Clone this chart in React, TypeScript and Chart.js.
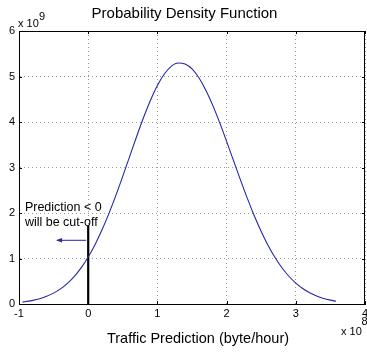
import React, { useEffect, useRef } from "react";
import { Chart, registerables } from "chart.js";

Chart.register(...registerables);

// Traffic prediction (x 10^8 byte/hour)
const xValues = [
  -0.95, -0.9, -0.8, -0.7, -0.6, -0.5, -0.4, -0.3, -0.2, -0.1,
  0, 0.1, 0.2, 0.3, 0.4, 0.5, 0.6, 0.7, 0.8, 0.9,
  1.0, 1.1, 1.2, 1.3, 1.4, 1.5, 1.6, 1.7, 1.8, 1.9,
  2.0, 2.1, 2.2, 2.3, 2.4, 2.5, 2.6, 2.7, 2.8, 2.9,
  3.0, 3.1, 3.2, 3.3, 3.4, 3.5, 3.58,
];
// Probability density (x 10^9)
const densityValues = [
  0.043, 0.054, 0.08, 0.117, 0.169, 0.239, 0.332, 0.454, 0.608, 0.799,
  1.033, 1.31, 1.63, 1.991, 2.387, 2.81, 3.246, 3.682, 4.098, 4.478,
  4.803, 5.056, 5.223, 5.297, 5.275, 5.167, 4.972, 4.7, 4.366, 3.986,
  3.575, 3.151, 2.729, 2.322, 1.941, 1.595, 1.288, 1.022, 0.796, 0.61,
  0.459, 0.339, 0.246, 0.176, 0.123, 0.085, 0.062,
];
// Cut-off marker at zero
const cutX = [0, 0];
const cutY = [0, 1.72];
// Arrow (from, to)
const arrowX = [-0.03, -0.45];
const arrowY = [1.4, 1.4];

const xTicks = [-1, 0, 1, 2, 3, 4];
const yTicks = [0, 1, 2, 3, 4, 5, 6];

const titleText = "Probability Density Function";
const xTitleText = "Traffic Prediction (byte/hour)";
const noteLines = ["Prediction < 0", "will be cut-off"];

const FONT = "'Liberation Sans', Arial, Helvetica, sans-serif";
const CURVE = "rgb(38,38,168)";

const decorPlugin = {
  id: "decor",
  afterDraw(chart: any) {
    const { ctx, chartArea, scales } = chart;
    const xs = scales.x;
    const ys = scales.y;
    const { left, right, top, bottom } = chartArea;
    ctx.save();
    // box top & right
    ctx.strokeStyle = "#000";
    ctx.lineWidth = 1;
    ctx.beginPath();
    ctx.moveTo(left, top + 0.5);
    ctx.lineTo(right, top + 0.5);
    ctx.moveTo(right - 0.5, top);
    ctx.lineTo(right - 0.5, bottom);
    ctx.stroke();
    // inner ticks
    const tl = 3;
    ctx.beginPath();
    xTicks.forEach((v) => {
      const px = Math.round(xs.getPixelForValue(v)) + 0.5;
      ctx.moveTo(px, bottom);
      ctx.lineTo(px, bottom - tl);
      ctx.moveTo(px, top);
      ctx.lineTo(px, top + tl);
    });
    yTicks.forEach((v) => {
      const py = Math.round(ys.getPixelForValue(v)) + 0.5;
      ctx.moveTo(left, py);
      ctx.lineTo(left + tl, py);
      ctx.moveTo(right, py);
      ctx.lineTo(right - tl, py);
    });
    ctx.stroke();

    // arrow head
    const ax = xs.getPixelForValue(arrowX[1]);
    const ay = ys.getPixelForValue(arrowY[1]);
    ctx.fillStyle = CURVE;
    ctx.beginPath();
    ctx.moveTo(ax - 1, ay);
    ctx.lineTo(ax + 5, ay - 2.2);
    ctx.lineTo(ax + 5, ay + 2.2);
    ctx.closePath();
    ctx.fill();

    // texts
    ctx.fillStyle = "#000";
    ctx.textBaseline = "alphabetic";
    // title
    ctx.font = `15px ${FONT}`;
    ctx.textAlign = "center";
    ctx.fillText(titleText, chart.width / 2 + 1, 18);
    // x title
    ctx.font = `14.5px ${FONT}`;
    ctx.fillText(xTitleText, (left + right) / 2 + 6, 343);
    // y exponent
    ctx.textAlign = "left";
    ctx.font = `11px ${FONT}`;
    ctx.fillText("x 10", left - 1, top - 4);
    ctx.fillText("9", left + 20, top - 11);
    // x exponent
    ctx.fillText("x 10", right - 24, bottom + 31);
    ctx.fillText("8", right - 3.5, bottom + 21);
    // note
    ctx.font = `12.5px ${FONT}`;
    const nx = xs.getPixelForValue(-0.915);
    const ny = ys.getPixelForValue(2.15);
    ctx.fillText(noteLines[0], nx, ny + 4.5);
    ctx.fillText(noteLines[1], nx, ny + 20);
    ctx.restore();
  },
};

export default function App() {
  const ref = useRef<HTMLCanvasElement | null>(null);
  useEffect(() => {
    const canvas = ref.current;
    if (!canvas) return;
    const chart = new Chart(canvas, {
      type: "line",
      data: {
        datasets: [
          {
            data: xValues.map((x, i) => ({ x, y: densityValues[i] })),
            borderColor: CURVE,
            borderWidth: 1.1,
            pointRadius: 0,
            cubicInterpolationMode: "monotone",
            fill: false,
          },
          {
            data: cutX.map((x, i) => ({ x, y: cutY[i] })),
            borderColor: "#000",
            borderWidth: 2.2,
            pointRadius: 0,
            fill: false,
          },
          {
            data: arrowX.map((x, i) => ({ x, y: arrowY[i] })),
            borderColor: CURVE,
            borderWidth: 1,
            pointRadius: 0,
            fill: false,
          },
        ],
      },
      options: {
        animation: false,
        responsive: false,
        devicePixelRatio: 1,
        layout: { padding: { left: 0, top: 31, right: 2, bottom: 0 } },
        plugins: {
          legend: { display: false },
          tooltip: { enabled: false },
          title: { display: false },
        },
        scales: {
          x: {
            type: "linear",
            min: -1,
            max: 4,
            afterBuildTicks: (s: any) => {
              s.ticks = xTicks.map((v) => ({ value: v }));
            },
            afterFit: (s: any) => {
              s.height = 48;
              s.paddingLeft = 0;
              s.paddingRight = 0;
            },
            ticks: {
              color: "#000",
              font: { family: FONT, size: 11 },
              padding: 3,
              maxRotation: 0,
              autoSkip: false,
            },
            grid: { color: "#999999", lineWidth: 1, drawTicks: false },
            border: { display: true, color: "#000", width: 1, dash: [1, 3] },
          },
          y: {
            type: "linear",
            min: 0,
            max: 6,
            afterBuildTicks: (s: any) => {
              s.ticks = yTicks.map((v) => ({ value: v }));
            },
            afterFit: (s: any) => {
              s.width = 19;
              s.paddingTop = 0;
              s.paddingBottom = 0;
            },
            ticks: {
              color: "#000",
              font: { family: FONT, size: 11 },
              padding: 4,
              autoSkip: false,
            },
            grid: { color: "#999999", lineWidth: 1, drawTicks: false },
            border: { display: true, color: "#000", width: 1, dash: [1, 3] },
          },
        },
      },
      plugins: [decorPlugin],
    });
    return () => chart.destroy();
  }, []);
  return (
    <div style={{ position: "absolute", left: 0, top: 0, width: 367, height: 352, background: "#fff" }}>
      <canvas ref={ref} width={367} height={352} style={{ display: "block" }} />
    </div>
  );
}
